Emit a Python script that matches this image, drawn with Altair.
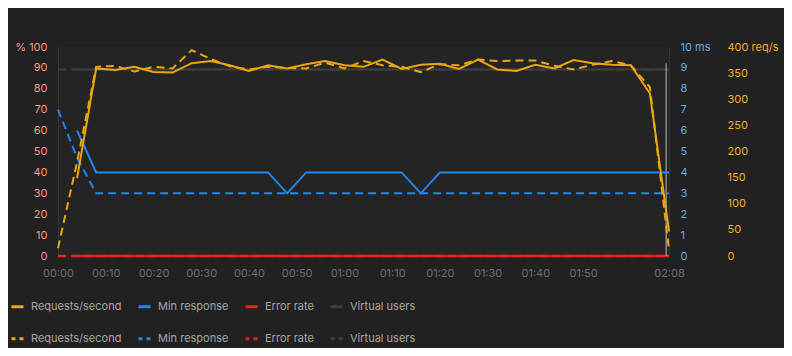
import altair as alt
import pandas as pd

# ---- data ----
SERIES = ["Requests/second", "Min response", "Error rate", "Virtual users"]
COLORS = ["#eaa60e", "#1f87ee", "#e8231d", "#3e3e3e"]
# the dashed (previous run) legend keeps the same names; a trailing space keeps its domain distinct
SERIES_PREV = [s + " " for s in SERIES]

# previous run (dashed) sampled from 00:00, current run (solid) from 00:04
T_PREV = [0, 4, 8, 12, 16, 20, 24, 28, 32, 36, 40, 44, 48, 52, 56, 60, 64,
          68, 72, 76, 80, 84, 88, 92, 96, 100, 104, 108, 112, 116, 120, 124, 128]
T_CUR = [4, 8, 12, 16, 20, 24, 28, 32, 36, 40, 44, 48, 52, 56, 60, 64,
         68, 72, 76, 80, 84, 88, 92, 96, 100, 104, 108, 112, 116, 120, 124, 128]

REQ_CUR = [149, 359, 356, 362, 352, 351, 369, 373, 365, 354, 365, 359, 367, 373, 365, 362,
           376, 358, 366, 368, 358, 376, 357, 354, 366, 359, 375, 369, 366, 365, 311, 47]
REQ_PREV = [15, 180, 362, 364, 353, 362, 359, 394, 377, 363, 357, 362, 360, 359, 370, 359, 373,
            365, 362, 352, 367, 365, 376, 373, 374, 374, 364, 357, 366, 373, 365, 323, 12]

MIN_CUR = [6.0, 4, 4, 4, 4, 4, 4, 4, 4, 4, 4, 3, 4, 4, 4, 4,
           4, 4, 3, 4, 4, 4, 4, 4, 4, 4, 4, 4, 4, 4, 4, 4]
MIN_PREV = [7.0, 4.7, 3, 3, 3, 3, 3, 3, 3, 3, 3, 3, 3, 3, 3, 3, 3,
            3, 3, 3, 3, 3, 3, 3, 3, 3, 3, 3, 3, 3, 3, 3, 3]

ERR_CUR = [0, 0, 0, 0, 0, 0, 0, 0, 0, 0, 0, 0, 0, 0, 0, 0,
           0, 0, 0, 0, 0, 0, 0, 0, 0, 0, 0, 0, 0, 0, 0, 0]
ERR_PREV = [0, 0, 0, 0, 0, 0, 0, 0, 0, 0, 0, 0, 0, 0, 0, 0, 0,
            0, 0, 0, 0, 0, 0, 0, 0, 0, 0, 0, 0, 0, 0, 0, 0]

VU_CUR = [89.2, 89.2, 89.2, 89.2, 89.2, 89.2, 89.2, 89.2, 89.2, 89.2, 89.2, 89.2, 89.2, 89.2, 89.2, 89.2,
          89.2, 89.2, 89.2, 89.2, 89.2, 89.2, 89.2, 89.2, 89.2, 89.2, 89.2, 89.2, 89.2, 89.2, 89.2, 89.2]
VU_PREV = [89.2, 89.2, 89.2, 89.2, 89.2, 89.2, 89.2, 89.2, 89.2, 89.2, 89.2, 89.2, 89.2, 89.2, 89.2, 89.2, 89.2,
           89.2, 89.2, 89.2, 89.2, 89.2, 89.2, 89.2, 89.2, 89.2, 89.2, 89.2, 89.2, 89.2, 89.2, 89.2, 89.2]

MARKER_T = [127.4]
MARKER_TOP = [92.2]
MARKER_BOTTOM = [0]

X_TICKS = [0, 10, 20, 30, 40, 50, 60, 70, 80, 90, 100, 110, 128]
PCT_TICKS = [0, 10, 20, 30, 40, 50, 60, 70, 80, 90, 100]
MS_TICKS = [0, 1, 2, 3, 4, 5, 6, 7, 8, 9, 10]
REQ_TICKS = [0, 50, 100, 150, 200, 250, 300, 350, 400]


def cur(t, v, name):
    return pd.DataFrame({"t": t, "v": v, "series": name})


def prev(t, v, name):
    return pd.DataFrame({"t": t, "v": v, "dseries": name + " "})


FONT = "Inter"
FS = 11

x_axis = alt.Axis(
    values=X_TICKS,
    labelExpr="(floor(datum.value/60) < 10 ? '0' : '') + floor(datum.value/60) + ':' + "
              "(datum.value % 60 < 10 ? '0' : '') + (datum.value % 60)",
    title=None, grid=False, ticks=False, domain=False, labelFlush=False,
    labelColor="#6e6e6e", labelFontSize=FS, labelPadding=11, labelFont=FONT,
)
x_enc = alt.X("t:Q", scale=alt.Scale(domain=[0, 128], nice=False, zero=False), axis=x_axis)

pct_axis = alt.Axis(
    orient="left", values=PCT_TICKS, labelExpr="datum.value == 100 ? '% 100' : datum.label",
    title=None, grid=False, ticks=False, tickSize=0, domain=True, domainColor="#363636",
    labelColor="#ef9a89", labelFontSize=FS, labelPadding=11, labelFlush=False, labelFont=FONT,
)
ms_axis = alt.Axis(
    orient="right", values=MS_TICKS, labelExpr="datum.value == 10 ? '10 ms' : datum.label",
    title=None, grid=False, ticks=False, tickSize=0, domain=True, domainColor="#363636",
    labelColor="#6fa6ea", labelFontSize=FS, labelPadding=11, labelFlush=False, labelFont=FONT,
)
req_axis = alt.Axis(
    orient="right", offset=47, values=REQ_TICKS,
    labelExpr="datum.value == 400 ? '400 req/s' : datum.label",
    title=None, grid=False, ticks=False, tickSize=0, domain=False,
    labelColor="#eeb026", labelFontSize=FS, labelPadding=11, labelFlush=False, labelFont=FONT,
)

y_pct = alt.Y("v:Q", scale=alt.Scale(domain=[0, 100], nice=False), axis=pct_axis)
y_ms = alt.Y("v:Q", scale=alt.Scale(domain=[0, 10], nice=False), axis=ms_axis)
y_req = alt.Y("v:Q", scale=alt.Scale(domain=[0, 400], nice=False), axis=req_axis)

legend_common = dict(
    title=None, orient="none", direction="horizontal", symbolType="stroke",
    symbolStrokeWidth=3, symbolSize=144, labelColor="#a6a6a6", labelFontSize=FS,
    labelFont=FONT, columnPadding=10, labelOffset=6, legendX=-48,
)
color_enc = alt.Color(
    "series:N", scale=alt.Scale(domain=SERIES, range=COLORS),
    legend=alt.Legend(legendY=252, **legend_common),
)
stroke_enc = alt.Stroke(
    "dseries:N", scale=alt.Scale(domain=SERIES_PREV, range=COLORS),
    legend=alt.Legend(legendY=284, symbolDash=[4, 4], **legend_common),
)

DASH = [8, 5]


def solid(df, y, width=2):
    return alt.Chart(df).mark_line(strokeWidth=width).encode(x=x_enc, y=y, color=color_enc)


def dashed(df, y, width=2):
    return alt.Chart(df).mark_line(strokeWidth=width, strokeDash=DASH).encode(
        x=x_enc, y=y, stroke=stroke_enc)


marker_df = pd.DataFrame({"t": MARKER_T, "v": MARKER_TOP, "v2": MARKER_BOTTOM})
marker = alt.Chart(marker_df).mark_rule(color="#bdbdbd", strokeWidth=1).encode(
    x=x_enc, y=y_pct, y2="v2:Q")

pct_layer = alt.layer(
    dashed(prev(T_PREV, VU_PREV, "Virtual users"), y_pct),
    solid(cur(T_CUR, VU_CUR, "Virtual users"), y_pct),
    dashed(prev(T_PREV, ERR_PREV, "Error rate"), y_pct, 2.5),
    solid(cur(T_CUR, ERR_CUR, "Error rate"), y_pct, 2.5),
    marker,
)
ms_layer = alt.layer(
    dashed(prev(T_PREV, MIN_PREV, "Min response"), y_ms),
    solid(cur(T_CUR, MIN_CUR, "Min response"), y_ms),
)
req_layer = alt.layer(
    dashed(prev(T_PREV, REQ_PREV, "Requests/second"), y_req),
    solid(cur(T_CUR, REQ_CUR, "Requests/second"), y_req),
)

chart = alt.layer(pct_layer, ms_layer, req_layer).resolve_scale(
    y="independent"
).properties(
    width=611, height=209,
    padding={"left": 50, "top": 39, "right": 115, "bottom": 92},
    autosize=alt.AutoSizeParams(type="none"),
    background="#212121",
).configure_view(
    fill="#242424", stroke=None,
)

chart.save("out.html", embed_options={"renderer": "svg", "actions": False})
